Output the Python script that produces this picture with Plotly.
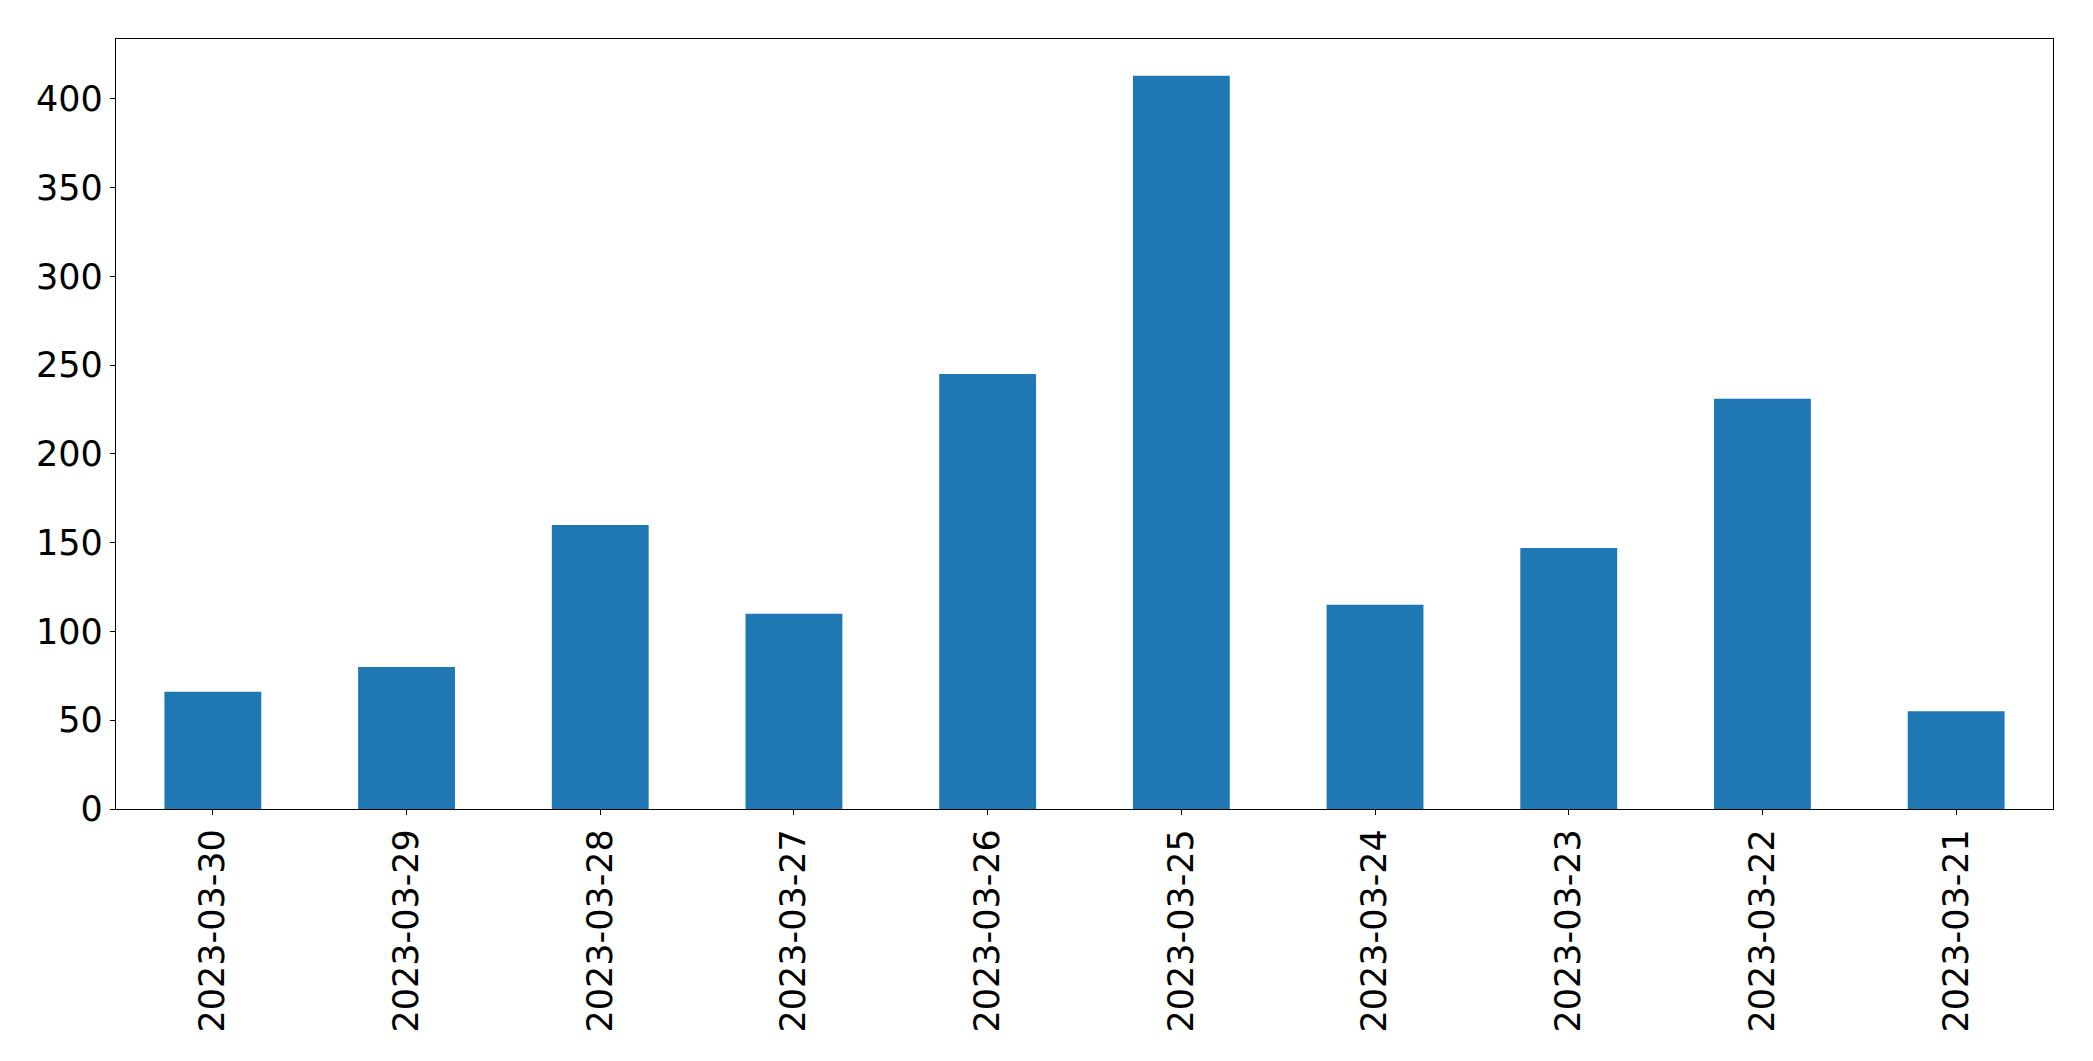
import plotly.graph_objects as go

dates = ["2023-03-30", "2023-03-29", "2023-03-28", "2023-03-27", "2023-03-26",
         "2023-03-25", "2023-03-24", "2023-03-23", "2023-03-22", "2023-03-21"]
counts = [66, 80, 160, 110, 245, 413, 115, 147, 231, 55]
y_ticks = [0, 50, 100, 150, 200, 250, 300, 350, 400]

fig = go.Figure(go.Bar(x=dates, y=counts, marker=dict(color="#1f77b4", line=dict(width=0)),
                       width=0.5))

font_family = "DejaVu Sans"
fig.update_layout(
    width=2093, height=1061,
    margin=dict(l=116, r=40, t=39, b=252, pad=0),
    plot_bgcolor="white", paper_bgcolor="white",
    showlegend=False,
    font=dict(family=font_family, size=35, color="black"),
)
fig.update_xaxes(
    type="category", range=[-0.5, len(dates) - 0.5],
    showline=True, linecolor="black", linewidth=1.3, mirror=True,
    ticks="outside", ticklen=5, tickwidth=1.3, tickcolor="black",
    tickangle=-90, showgrid=False, zeroline=False,
    tickfont=dict(family=font_family, size=35, color="black"),
)
fig.update_yaxes(
    range=[0, max(counts) * 1.05],
    tickvals=y_ticks,
    showline=True, linecolor="black", linewidth=1.3, mirror=True,
    ticks="outside", ticklen=5, tickwidth=1.3, tickcolor="black",
    showgrid=False, zeroline=False,
    tickfont=dict(family=font_family, size=35, color="black"),
)

fig.write_html("out.html")
